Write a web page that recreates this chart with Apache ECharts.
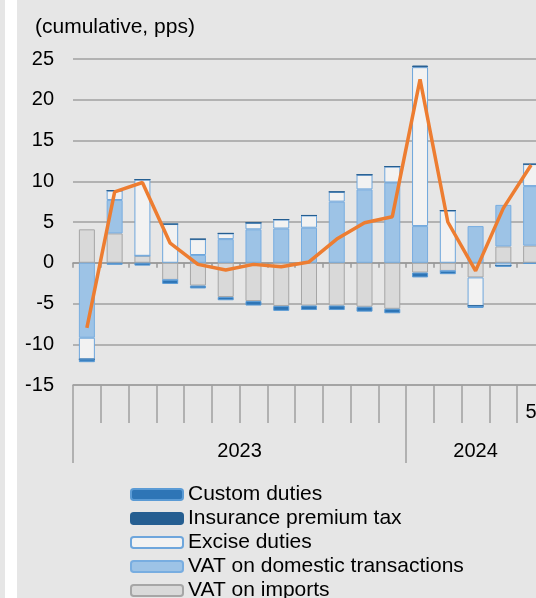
<!DOCTYPE html>
<html>
<head>
<meta charset="utf-8">
<script src="https://cdn.jsdelivr.net/npm/echarts@6/dist/echarts.min.js"></script>
<style>
html,body{margin:0;padding:0;background:#e6e6e6;}
#c{width:536px;height:598px;}
</style>
</head>
<body>
<div id="c"></div>
<script>
// Months Jan 2023 .. May 2024
const categories = ['Jan 2023','Feb 2023','Mar 2023','Apr 2023','May 2023','Jun 2023','Jul 2023','Aug 2023','Sep 2023','Oct 2023','Nov 2023','Dec 2023','Jan 2024','Feb 2024','Mar 2024','Apr 2024','May 2024'];
const monthTickLabels = ['','','','','','','','','','','','','','','','','5'];
const years = ['2023','2024'];
const monthsPerYear = [12, 5];

const vatImports  = [4.1, 3.6, 0.85, -2.1, -2.8, -4.2, -4.7, -5.3, -5.25, -5.25, -5.4, -5.65, -1.2, -1.0, -1.8, 2.0, 2.1];
const vatDomestic = [-9.2, 4.1, 0, 0, 0.95, 2.9, 4.1, 4.2, 4.3, 7.5, 9.0, 9.85, 4.5, 0, 4.5, 5.1, 7.3];
const exciseDuties = [-2.65, 1.15, 9.35, 4.75, 1.95, 0.7, 0.8, 1.1, 1.5, 1.2, 1.8, 1.95, 19.5, 6.4, -3.5, -0.35, 2.7];
const insurancePremiumTax = [0, 0, 0, 0, 0, 0, 0, 0, 0, 0, 0, 0, 0.2, 0, 0, 0, 0];
const customDuties = [-0.35, -0.25, -0.35, -0.5, -0.35, -0.4, -0.55, -0.6, -0.55, -0.55, -0.6, -0.55, -0.6, -0.4, -0.25, -0.15, -0.15];
const total = [-8.0, 8.7, 9.85, 2.4, -0.2, -0.9, -0.2, -0.5, 0.1, 2.9, 4.9, 5.65, 22.5, 5.0, -1.0, 6.7, 12.0];

const yTicks = {min: -15, max: 25, interval: 5};

// year axis positions derived from months per year
const yearBounds = [0];
monthsPerYear.forEach(n => yearBounds.push(yearBounds[yearBounds.length-1] + n));
const yearCenters = monthsPerYear.map((n, i) => yearBounds[i] + n / 2);

const FONT = '"Liberation Sans", Arial, sans-serif';
const chart = echarts.init(document.getElementById('c'), null, {renderer: 'canvas'});

function barSeries(name, data, fill, border) {
  return {
    name: name, type: 'bar', stack: 'tax', data: data, barWidth: 16,
    itemStyle: {color: fill, borderColor: border, borderWidth: 1},
    emphasis: {disabled: true}, animation: false
  };
}

chart.setOption({
  backgroundColor: '#e6e6e6',
  animation: false,
  textStyle: {fontFamily: FONT},
  graphic: [{
    type: 'rect', left: 5, top: 0, shape: {width: 12, height: 598},
    style: {fill: '#ffffff'}, silent: true
  }],
  title: {
    text: '(cumulative, pps)', left: 35, top: 17, padding: 0,
    textStyle: {fontSize: 21, fontWeight: 'normal', color: '#000', fontFamily: FONT}
  },
  legend: {
    orient: 'vertical', left: 130, top: 484, height: 160, padding: 0,
    itemWidth: 52, itemHeight: 11, itemGap: 3,
    data: ['Custom duties', 'Insurance premium tax', 'Excise duties', 'VAT on domestic transactions', 'VAT on imports'],
    textStyle: {fontSize: 21, color: '#000', fontFamily: FONT, lineHeight: 21},
    selectedMode: false
  },
  grid: {left: 73, top: 59, width: 472, height: 326, containLabel: false, outerBoundsMode: 'none'},
  xAxis: [
    {
      type: 'category', data: categories, position: 'bottom',
      axisLine: {show: true, onZero: true, lineStyle: {color: '#999999', width: 1.5}},
      axisTick: {show: true, length: 5, interval: 0, lineStyle: {color: '#999999', width: 1.5}},
      axisLabel: {show: false}, splitLine: {show: false}
    },
    {
      type: 'category', data: categories, position: 'bottom',
      axisLine: {show: true, onZero: false, lineStyle: {color: '#a0a0a0', width: 1.5}},
      axisTick: {show: true, length: 38, interval: 0, lineStyle: {color: '#a0a0a0', width: 1.5}},
      axisLabel: {show: true, interval: 0, margin: 17.5, fontSize: 20, color: '#000', fontFamily: FONT,
        formatter: (v, i) => monthTickLabels[i]},
      splitLine: {show: false}
    },
    {
      type: 'value', position: 'bottom', min: 0, max: yearBounds[yearBounds.length-1],
      axisLine: {show: false, onZero: false},
      axisTick: {show: true, length: 78, customValues: yearBounds, lineStyle: {color: '#a0a0a0', width: 1.5}},
      axisLabel: {show: true, margin: 56, fontSize: 20, color: '#000', fontFamily: FONT,
        customValues: yearCenters,
        formatter: v => { const i = yearCenters.indexOf(v); return i >= 0 ? years[i] : ''; }},
      splitLine: {show: false}
    }
  ],
  yAxis: {
    type: 'value', min: yTicks.min, max: yTicks.max, interval: yTicks.interval,
    axisLine: {show: false}, axisTick: {show: false},
    axisLabel: {fontSize: 20, color: '#000', margin: 19, fontFamily: FONT},
    splitLine: {show: true, lineStyle: {color: '#a0a0a0', width: 1.5}}
  },
  series: [
    barSeries('VAT on imports', vatImports, '#d9d9d9', '#a6a6a6'),
    barSeries('VAT on domestic transactions', vatDomestic, '#9dc3e6', '#78ade0'),
    barSeries('Excise duties', exciseDuties, '#f2f2f2', '#6ea6dc'),
    barSeries('Insurance premium tax', insurancePremiumTax, '#255e91', '#255e91'),
    barSeries('Custom duties', customDuties, '#2e75b6', '#5b9bd5'),
    {
      name: 'Total', type: 'line', data: total, symbol: 'none', smooth: false,
      lineStyle: {color: '#ed7d31', width: 3.5}, itemStyle: {color: '#ed7d31'},
      z: 5, animation: false, emphasis: {disabled: true}
    }
  ]
});
</script>
</body>
</html>
